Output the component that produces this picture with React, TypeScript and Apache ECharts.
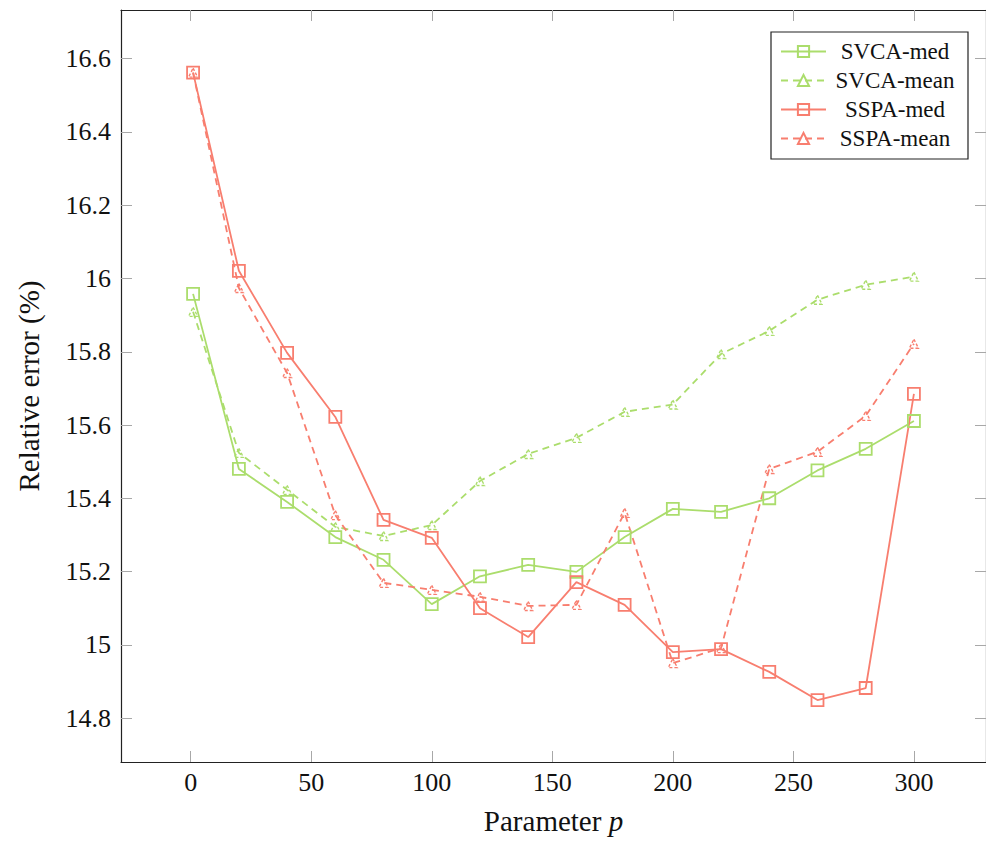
import React, { useEffect, useRef } from "react";
import * as echarts from "echarts";

const xs = [1, 20, 40, 60, 80, 100, 120, 140, 160, 180, 200, 220, 240, 260, 280, 300];
const svcaMed = [15.958, 15.48, 15.39, 15.294, 15.232, 15.111, 15.187, 15.218, 15.199, 15.294, 15.371, 15.363, 15.4, 15.476, 15.535, 15.611];
const svcaMean = [15.909, 15.524, 15.423, 15.322, 15.297, 15.327, 15.447, 15.521, 15.565, 15.636, 15.656, 15.794, 15.857, 15.942, 15.983, 16.005];
const sspaMed = [16.562, 16.021, 15.797, 15.622, 15.341, 15.292, 15.1, 15.021, 15.171, 15.109, 14.98, 14.988, 14.926, 14.849, 14.882, 15.685];
const sspaMean = [16.562, 15.974, 15.742, 15.354, 15.169, 15.15, 15.131, 15.106, 15.109, 15.36, 14.95, 14.991, 15.48, 15.527, 15.625, 15.822];
const seriesNames = ["SVCA-med", "SVCA-mean", "SSPA-med", "SSPA-mean"];
const xTicks = [0, 50, 100, 150, 200, 250, 300];
const yTicks = [14.8, 15, 15.2, 15.4, 15.6, 15.8, 16, 16.2, 16.4, 16.6];

const GREEN = "#abdd6c";
const RED = "#f87e6f";
const FONT = "Liberation Serif";

function pairs(vals: number[]) {
  return xs.map((x, i) => [x, vals[i]]);
}

function makeSeries(name: string, vals: number[], color: string, dashed: boolean) {
  return {
    name,
    type: "line",
    data: pairs(vals),
    color,
    symbol: dashed ? "triangle" : "rect",
    symbolSize: dashed ? 9 : 12,
    showSymbol: true,
    lineStyle: { color, width: 1.8, type: dashed ? [7, 5] : "solid" },
    itemStyle: {
      color: "rgba(255,255,255,0)",
      borderColor: color,
      borderWidth: dashed ? 1.4 : 1.8,
      borderType: dashed ? [3, 2] : "solid",
    },
    emphasis: { disabled: true },
  };
}

export default function App() {
  const ref = useRef<HTMLDivElement>(null);
  useEffect(() => {
    if (!ref.current) return;
    const chart = echarts.init(ref.current, undefined, { renderer: "svg" });
    const xMin = -28.9;
    const xMax = 329.9;
    const yMin = 14.68;
    const yMax = 16.733;
    const tickStyle = { lineStyle: { color: "#a8a8a8", width: 1 } };
    const axisLine = { show: true, onZero: false, lineStyle: { color: "#222", width: 1.2 } };
    chart.setOption({
      animation: false,
      backgroundColor: "#fff",
      textStyle: { fontFamily: FONT },
      grid: { left: 121, top: 10, right: -9, bottom: 80, containLabel: false },
      legend: {
        orient: "vertical",
        left: 771,
        top: 32,
        padding: [8, 9, 9, 9],
        itemWidth: 45,
        itemHeight: 14,
        itemGap: 6,
        borderColor: "#222",
        borderWidth: 1.2,
        backgroundColor: "#fff",
        data: seriesNames,
        formatter: (n: string) => "{a|" + n + "}",
        textStyle: {
          fontFamily: FONT,
          fontSize: 23,
          color: "#111",
          rich: { a: { width: 128, align: "center", fontFamily: FONT, fontSize: 23, lineHeight: 23, color: "#111" } },
        },
      },
      xAxis: [
        {
          type: "value",
          min: xMin,
          max: xMax,
          position: "bottom",
          axisLine,
          splitLine: { show: false },
          axisTick: { show: true, inside: true, length: 11, customValues: xTicks, ...tickStyle },
          axisLabel: { customValues: xTicks, margin: 7, fontSize: 26, color: "#111", fontFamily: FONT },
          name: "Parameter {i|p}",
          nameLocation: "middle",
          nameGap: 44,
          nameTextStyle: {
            fontSize: 29,
            color: "#111",
            fontFamily: FONT,
            rich: { i: { fontStyle: "italic", fontSize: 29, fontFamily: FONT, color: "#111" } },
          },
        },
        {
          type: "value",
          min: xMin,
          max: xMax,
          position: "top",
          axisLine,
          splitLine: { show: false },
          axisTick: { show: true, inside: true, length: 11, customValues: xTicks, ...tickStyle },
          axisLabel: { show: false },
        },
      ],
      yAxis: [
        {
          type: "value",
          min: yMin,
          max: yMax,
          position: "left",
          axisLine,
          splitLine: { show: false },
          axisTick: { show: true, inside: true, length: 11, customValues: yTicks, ...tickStyle },
          axisLabel: {
            customValues: yTicks,
            margin: 10,
            fontSize: 26,
            color: "#111",
            fontFamily: FONT,
            formatter: (v: number) => String(Number(v.toFixed(1))),
          },
          name: "Relative error (%)",
          nameLocation: "middle",
          nameGap: 78,
          nameTextStyle: { fontSize: 29, color: "#111", fontFamily: FONT },
        },
        {
          type: "value",
          min: yMin,
          max: yMax,
          position: "right",
          axisLine,
          splitLine: { show: false },
          axisTick: { show: true, inside: true, length: 11, customValues: yTicks, ...tickStyle },
          axisLabel: { show: false },
        },
      ],
      series: [
        makeSeries(seriesNames[0], svcaMed, GREEN, false),
        makeSeries(seriesNames[1], svcaMean, GREEN, true),
        makeSeries(seriesNames[2], sspaMed, RED, false),
        makeSeries(seriesNames[3], sspaMean, RED, true),
      ],
    });
    return () => chart.dispose();
  }, []);
  return (
    <div
      ref={ref}
      style={{ position: "fixed", left: 0, top: 0, width: 986, height: 842, background: "#fff" }}
    />
  );
}
